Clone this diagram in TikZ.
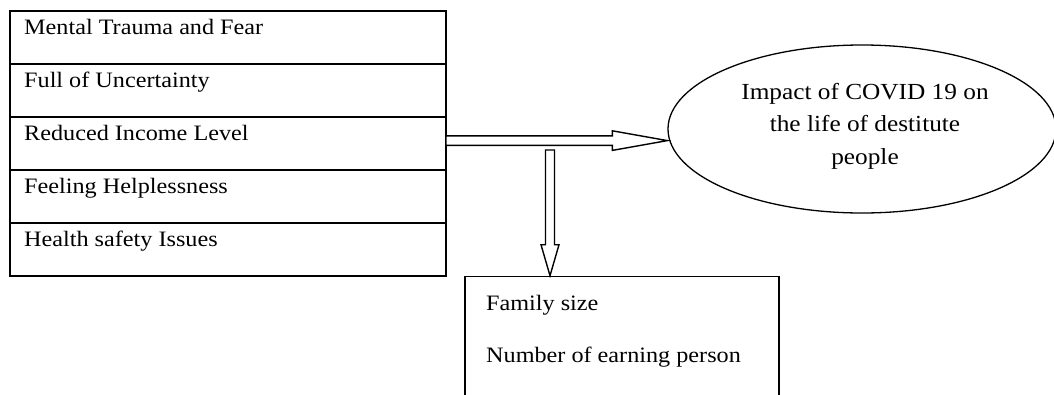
\documentclass[tikz,border=0pt]{standalone}
\usepackage{fontspec}
\setmainfont{Liberation Serif}[FakeStretch=1.1]
\usetikzlibrary{shapes.geometric,calc}
\begin{document}
\begin{tikzpicture}[x=1pt,y=-1pt,
  rowbox/.style={draw,line width=1.6pt,minimum width=436pt,minimum height=53pt,anchor=north west,inner sep=0pt,outer sep=0pt},
  rowtext/.style={anchor=base west,inner sep=0pt,font=\fontsize{22}{26}\selectfont},
  blockarrow/.style={draw,line width=1.4pt,fill=white,line join=miter},
  ellbox/.style={draw,ellipse,line width=1.3pt,minimum width=388pt,minimum height=168pt,inner sep=0pt},
  bigbox/.style={draw,line width=1.6pt,minimum width=314pt,minimum height=130pt,anchor=north west,inner sep=0pt}
]
\useasboundingbox (0,0) rectangle (1054,394);
% left column of boxes
\node[rowbox] (L1) at (10,11) {};
\node[rowbox] (L2) at (L1.south west) {};
\node[rowbox] (L3) at (L2.south west) {};
\node[rowbox] (L4) at (L3.south west) {};
\node[rowbox] (L5) at (L4.south west) {};
\node[rowtext] (T1) at ($(L1.north west)+(14,23)$) {Mental Trauma and Fear};
\node[rowtext] (T2) at ($(L2.north west)+(14,23)$) {Full of Uncertainty};
\node[rowtext] (T3) at ($(L3.north west)+(14,23)$) {Reduced Income Level};
\node[rowtext] (T4) at ($(L4.north west)+(14,23)$) {Feeling Helplessness};
\node[rowtext] (T5) at ($(L5.north west)+(14,23)$) {Health safety Issues};
% ellipse
\node[ellbox] (E) at (862,129) {};
\node[align=center,inner sep=0pt,font=\fontsize{23}{32.5}\selectfont] (ET) at (865,126) {Impact of COVID 19 on\\the life of destitute\\people};
% bottom box
\node[bigbox] (B) at (464,275.7) {};
\node[rowtext] (B1) at ($(B.north west)+(22,35)$) {Family size};
\node[rowtext] (B2) at ($(B.north west)+(22,87)$) {Number of earning person};
% horizontal block arrow
\coordinate (hy) at (0,140.6);
\coordinate (hs) at (L3.east |- hy);
\coordinate (ht) at (E.west |- hy);
\draw[blockarrow] ($(hs)+(0,-4.8)$) -- ($(ht)+(-55,-4.8)$) -- ($(ht)+(-55,-9.8)$) -- (ht)
  -- ($(ht)+(-55,9.8)$) -- ($(ht)+(-55,4.8)$) -- ($(hs)+(0,4.8)$) -- cycle;
% vertical block arrow
\coordinate (vs) at (550,150);
\coordinate (vt) at (vs |- B.north);
\draw[blockarrow] ($(vs)+(-4.5,0)$) -- ($(vt)+(-4.5,-31)$) -- ($(vt)+(-9,-31)$) -- (vt)
  -- ($(vt)+(9,-31)$) -- ($(vt)+(4.5,-31)$) -- ($(vs)+(4.5,0)$) -- cycle;
\end{tikzpicture}
\end{document}
